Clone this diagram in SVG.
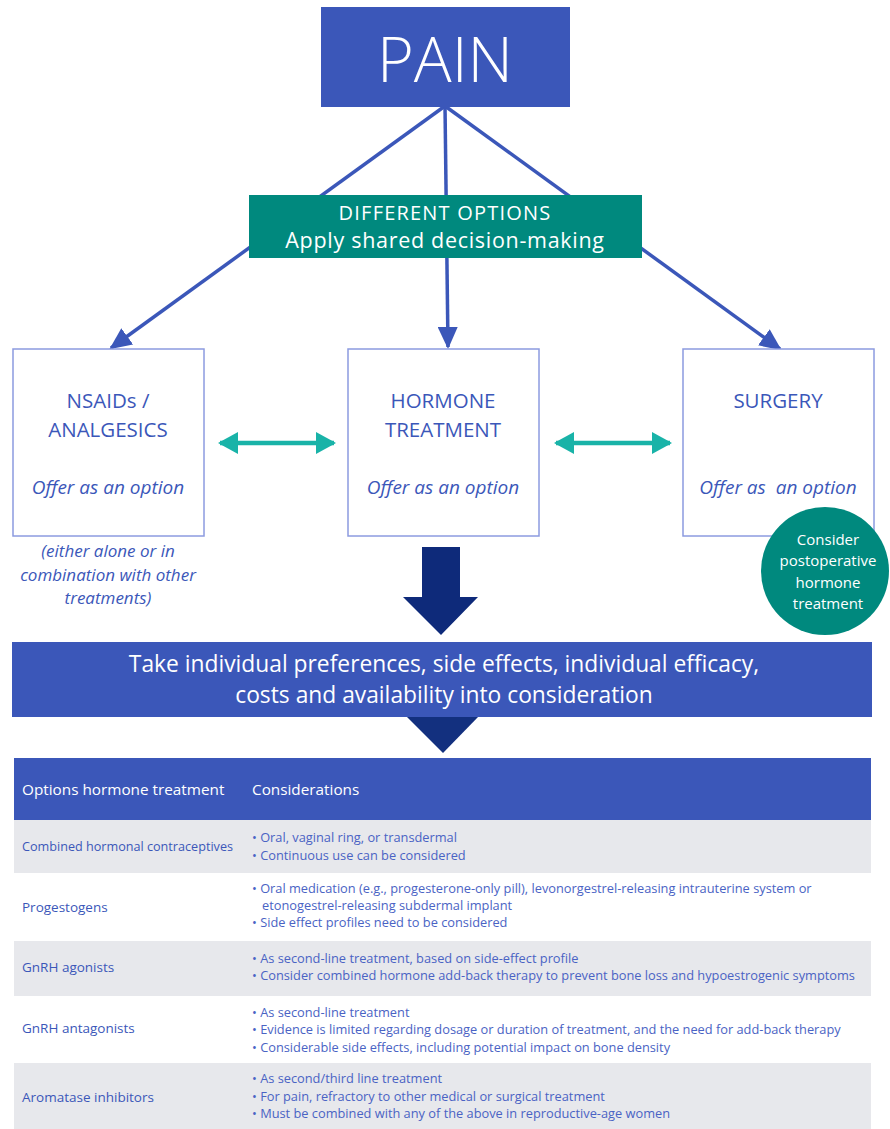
<svg xmlns="http://www.w3.org/2000/svg" width="890" height="1129" viewBox="0 0 890 1129">
<defs>
<style>
text{font-family:"Open Sans","Noto Sans","Liberation Sans",sans-serif}
.w{fill:#ffffff}
.box{fill:#ffffff;stroke:#8c9be0;stroke-width:1.5}
.conn{stroke:#3b57b9;stroke-width:3.5;fill:none}
.dbl{stroke:#19b3a8;stroke-width:4.5;fill:none}
.lbl{font-size:13.5px;fill:#3b57b9}
.bul{font-size:12.8px;fill:#4a63c4}
.cap{font-size:20.5px;fill:#3b57b9;text-anchor:middle}
.it{font-size:19px;font-style:italic;fill:#3b57b9;text-anchor:middle}
.note{font-size:17px;font-style:italic;fill:#3b57b9;text-anchor:middle}
</style>
<marker id="ah" markerUnits="userSpaceOnUse" markerWidth="22" markerHeight="20" refX="20" refY="10" orient="auto">
<path d="M0,0 L22,10 L0,20 Z" fill="#3b57b9"/>
</marker>
<marker id="th" markerUnits="userSpaceOnUse" markerWidth="20" markerHeight="22" refX="18" refY="11" orient="auto-start-reverse">
<path d="M0,0 L20,11 L0,22 Z" fill="#19b3a8"/>
</marker>
</defs>
<rect width="890" height="1129" fill="#ffffff"/>

<g id="connectors">
<line class="conn" x1="445" y1="106" x2="111" y2="348" marker-end="url(#ah)"/>
<line class="conn" x1="445" y1="106" x2="448" y2="347" marker-end="url(#ah)"/>
<line class="conn" x1="445" y1="106" x2="780" y2="349" marker-end="url(#ah)"/>
<line class="dbl" x1="220" y1="443" x2="334" y2="443" marker-start="url(#th)" marker-end="url(#th)"/>
<line class="dbl" x1="556" y1="443" x2="670" y2="443" marker-start="url(#th)" marker-end="url(#th)"/>
<path d="M422,547 H460 V597 H478 L441,635 L403,597 H422 Z" fill="#0e2a7a"/>
<path d="M406,716 H479 L443,753 Z" fill="#13307f"/>
</g>

<g id="pain">
<rect x="321" y="7" width="249" height="100" fill="#3b57b9"/>
<text x="445" y="82" class="w" font-size="63" font-weight="300" text-anchor="middle">PAIN</text>
</g>

<g id="options">
<rect x="249" y="195" width="393" height="63" fill="#00897e"/>
<text x="445" y="220" class="w" font-size="20" letter-spacing="1.2" text-anchor="middle">DIFFERENT OPTIONS</text>
<text x="445" y="248" class="w" font-size="21.5" letter-spacing="0.7" text-anchor="middle">Apply shared decision-making</text>
</g>

<g id="nsaids">
<rect class="box" x="13" y="349" width="191" height="187"/>
<text x="108" y="408" class="cap">NSAIDs /</text>
<text x="108" y="437" class="cap">ANALGESICS</text>
<text x="108" y="494" class="it">Offer as an option</text>
</g>

<g id="nsaids-note">
<text x="108" y="557" class="note">(either alone or in</text>
<text x="108" y="580.5" class="note">combination with other</text>
<text x="108" y="604" class="note">treatments)</text>
</g>

<g id="hormone">
<rect class="box" x="348" y="349" width="191" height="187"/>
<text x="443" y="408" class="cap">HORMONE</text>
<text x="443" y="437" class="cap">TREATMENT</text>
<text x="443" y="494" class="it">Offer as an option</text>
</g>

<g id="surgery">
<rect class="box" x="683" y="349" width="191" height="187"/>
<text x="778" y="408" class="cap">SURGERY</text>
<text x="778" y="494" class="it" xml:space="preserve">Offer as  an option</text>
</g>

<g id="postop">
<circle cx="825" cy="571" r="64" fill="#00897e"/>
<text x="828" y="545" class="w" font-size="15" text-anchor="middle">Consider</text>
<text x="828" y="566" class="w" font-size="15" text-anchor="middle">postoperative</text>
<text x="828" y="588" class="w" font-size="15" text-anchor="middle">hormone</text>
<text x="828" y="609" class="w" font-size="15" text-anchor="middle">treatment</text>
</g>

<g id="consideration">
<rect x="12" y="642" width="860" height="75" fill="#3b57b9"/>
<text x="444" y="672" class="w" font-size="22.8" text-anchor="middle">Take individual preferences, side effects, individual efficacy,</text>
<text x="444" y="703" class="w" font-size="22.8" text-anchor="middle">costs and availability into consideration</text>
</g>

<g id="table">
<rect x="14" y="758" width="857" height="62" fill="#3b57b9"/>
<text x="22" y="795" class="w" font-size="15.3">Options hormone treatment</text>
<text x="252" y="795" class="w" font-size="15.3">Considerations</text>

<rect x="14" y="820" width="857" height="53" fill="#e7e8ec"/>
<text x="22" y="851" class="lbl" textLength="211" lengthAdjust="spacingAndGlyphs">Combined hormonal contraceptives</text>
<text x="252" y="842" class="bul">• Oral, vaginal ring, or transdermal</text>
<text x="252" y="860" class="bul">• Continuous use can be considered</text>

<text x="22" y="912" class="lbl">Progestogens</text>
<text x="252" y="893" class="bul">• Oral medication (e.g., progesterone-only pill), levonorgestrel-releasing intrauterine system or</text>
<text x="262" y="910" class="bul">etonogestrel-releasing subdermal implant</text>
<text x="252" y="927" class="bul">• Side effect profiles need to be considered</text>

<rect x="14" y="941" width="857" height="55" fill="#e7e8ec"/>
<text x="22" y="972" class="lbl">GnRH agonists</text>
<text x="252" y="963" class="bul">• As second-line treatment, based on side-effect profile</text>
<text x="252" y="980" class="bul">• Consider combined hormone add-back therapy to prevent bone loss and hypoestrogenic symptoms</text>

<text x="22" y="1033" class="lbl">GnRH antagonists</text>
<text x="252" y="1017" class="bul">• As second-line treatment</text>
<text x="252" y="1034" class="bul">• Evidence is limited regarding dosage or duration of treatment, and the need for add-back therapy</text>
<text x="252" y="1052" class="bul">• Considerable side effects, including potential impact on bone density</text>

<rect x="14" y="1063" width="857" height="66" fill="#e7e8ec"/>
<text x="22" y="1102" class="lbl">Aromatase inhibitors</text>
<text x="252" y="1083" class="bul">• As second/third line treatment</text>
<text x="252" y="1101" class="bul">• For pain, refractory to other medical or surgical treatment</text>
<text x="252" y="1118" class="bul">• Must be combined with any of the above in reproductive-age women</text>
</g>
</svg>
